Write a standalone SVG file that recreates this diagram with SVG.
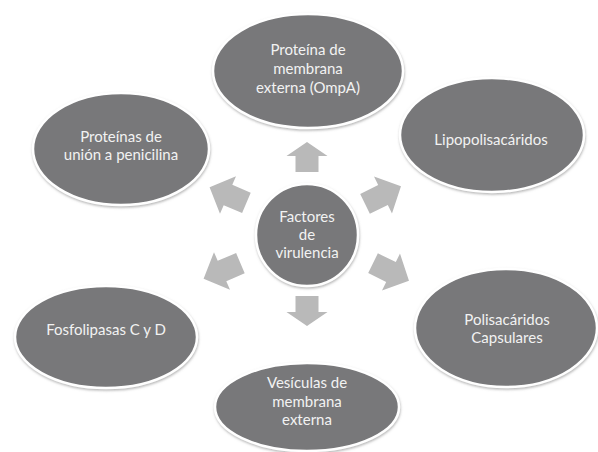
<svg xmlns="http://www.w3.org/2000/svg" width="598" height="452" viewBox="0 0 598 452">
<style>
.node ellipse, .node circle { fill: #78787a; stroke: #ffffff; stroke-width: 2.5; filter: url(#sh); }
.node text { font-family: Lato, "Open Sans", "Liberation Sans", sans-serif; font-size: 15px; fill: #f2f2f2; text-anchor: middle; }
.arrow { fill: #b9b9b9; }
</style>
<defs>
<filter id="sh" x="-10%" y="-10%" width="120%" height="125%">
<feDropShadow dx="0.5" dy="1.5" stdDeviation="1.2" flood-color="#888888" flood-opacity="0.6"/>
</filter>
<polygon id="arr" points="-15,-11.5 1,-11.5 1,-20.5 15,0 1,20.5 1,11.5 -15,11.5"/>
<polygon id="arrd" points="-20,-11 0,-11 0,-20.5 20,0 0,20.5 0,11 -20,11"/>
</defs>
<rect width="598" height="452" fill="#ffffff"/>
<g id="connectors">
<use href="#arr" class="arrow" transform="translate(307,157) rotate(-90)"/>
<use href="#arrd" class="arrow" transform="translate(383,195) rotate(-26)"/>
<use href="#arrd" class="arrow" transform="translate(391,272) rotate(26)"/>
<use href="#arr" class="arrow" transform="translate(307,311) rotate(90)"/>
<use href="#arrd" class="arrow" transform="translate(222,271) rotate(157)"/>
<use href="#arrd" class="arrow" transform="translate(228,195) rotate(-157)"/>
</g>
<g id="center" class="node">
<circle cx="307" cy="235" r="51"/>
<text x="307" y="222">Factores</text>
<text x="307" y="240">de</text>
<text x="307" y="258">virulencia</text>
</g>
<g id="ompa" class="node">
<ellipse cx="308" cy="71" rx="95" ry="57"/>
<text x="308" y="55">Proteína de</text>
<text x="308" y="74">membrana</text>
<text x="308" y="93">externa (OmpA)</text>
</g>
<g id="lps" class="node">
<ellipse cx="492" cy="135" rx="92" ry="57"/>
<text x="491" y="145">Lipopolisacáridos</text>
</g>
<g id="pbp" class="node">
<ellipse cx="121" cy="149" rx="88" ry="56"/>
<text x="121" y="142">Proteínas de</text>
<text x="121" y="160">unión a penicilina</text>
</g>
<g id="fosfo" class="node">
<ellipse cx="106" cy="337" rx="91" ry="51"/>
<text x="106" y="335">Fosfolipasas C y D</text>
</g>
<g id="caps" class="node">
<ellipse cx="506" cy="328" rx="91" ry="59"/>
<text x="507" y="325">Polisacáridos</text>
<text x="507" y="343">Capsulares</text>
</g>
<g id="vesic" class="node">
<ellipse cx="307" cy="407" rx="92" ry="44"/>
<text x="307" y="388">Vesículas de</text>
<text x="307" y="407">membrana</text>
<text x="307" y="425">externa</text>
</g>
</svg>
